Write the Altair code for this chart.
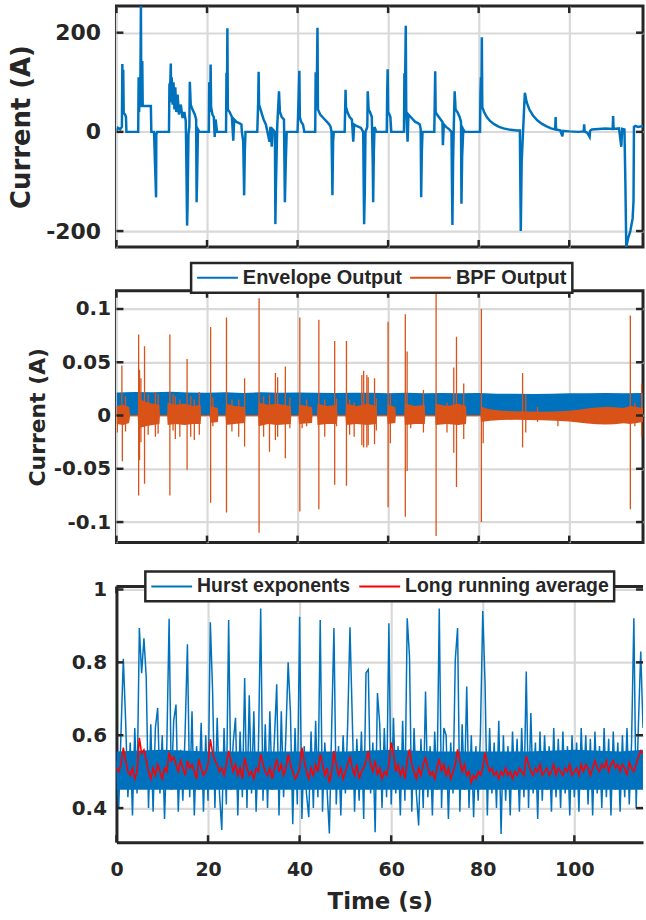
import altair as alt
import pandas as pd

BLUE = "#0072BD"
ORANGE = "#D95319"
RED = "#FF0000"
INK = "#262626"
GRID = "#d9d9d9"

# ---------------- tick values ----------------
x_ticks = [0, 20, 40, 60, 80, 100]
cur_ticks = [-200, 0, 200]
bpf_ticks = [-0.1, -0.05, 0, 0.05, 0.1]
hurst_ticks = [0.4, 0.6, 0.8, 1]

# ---------------- panel 1: current (A) ----------------
current_pts = [
    (0.0, 3), (0.3, 8), (0.8, 5), (1.2, 10), (1.3, 137), (1.4, 40), (1.5, 125), (1.6, 38), (1.9, 35), (2.1, 30), (2.2, 0),
    (4.8, 0), (4.9, 110), (5.0, 40), (5.3, 115), (5.4, 254), (5.5, 50), (5.6, 125), (5.7, 143), (5.8, 52), (7.6, 52), (7.7, 0),
    (8.3, 0), (8.5, -60), (8.75, -132), (8.8, -5), (9.0, 0),
    (11.6, 0), (11.7, 95), (11.9, 100), (12.0, 138), (12.1, 60), (12.2, 110), (12.4, 55), (12.6, 100), (12.8, 45), (13.0, 90),
    (13.2, 40), (13.5, 75), (13.8, 35), (14.2, 55), (14.6, 28), (15.0, 40), (15.3, 22), (15.4, -30), (15.6, -189), (15.7, -150),
    (15.9, -5), (16.1, 10), (16.2, 101), (16.4, 55), (16.8, 45), (17.3, 35), (17.6, 25), (17.7, -142), (17.8, -100), (18.0, 5), (18.3, 0),
    (20.4, 0), (20.5, 100), (20.7, 40), (20.8, 136), (20.9, 50), (21.2, 35), (21.5, 30), (21.7, -10), (21.9, 25), (22.2, 0),
    (24.2, 0), (24.3, 119), (24.4, 60), (24.5, 209), (24.6, 45), (25.0, 40), (25.5, 30), (25.8, -18), (26.0, 25), (26.5, 20),
    (27.0, 18), (27.6, 15), (27.7, 0), (28.0, -20), (28.2, -128), (28.35, -40), (28.5, 0),
    (31.1, 0), (31.3, 60), (31.4, 121), (31.5, 55), (32.0, 40), (32.5, 25), (33.0, 15), (33.8, -20), (34.0, 10), (34.3, -30),
    (34.5, 5), (35.0, 0), (35.1, -186), (35.2, -120), (35.5, 10), (35.9, 82), (36.1, 40), (36.5, 30), (37.0, 25), (37.2, -142),
    (37.4, -60), (37.6, 0),
    (40.0, 0), (40.2, 60), (40.4, 123), (40.5, 30), (40.8, 20), (41.2, 15), (41.5, 0), (43.9, 0), (44.0, 120), (44.2, 60),
    (44.4, 210), (44.5, 45), (45.0, 35), (45.5, 30), (46.0, 25), (46.5, 20), (47.0, 15), (47.3, 10), (47.5, 0), (47.6, -60),
    (47.7, -128), (47.85, -20), (48.0, 0),
    (50.4, 0), (50.5, 40), (50.6, 85), (50.7, 50), (51.0, 40), (51.5, 30), (52.0, 25), (52.3, -20), (52.5, 15), (53.0, 12),
    (53.5, 10), (54.0, 8), (54.5, 0), (54.6, -100), (54.7, -186), (54.85, -120), (55.0, 0), (55.4, 10), (55.5, 82), (55.7, 45),
    (56.0, 40), (56.4, 30), (56.6, -60), (56.7, -142), (56.85, -40), (57.0, 10), (57.4, 0),
    (59.7, 0), (59.8, 80), (59.9, 126), (60.0, 40), (60.3, 35), (60.5, 30), (60.7, 0),
    (63.5, 0), (63.6, 118), (63.7, 60), (63.9, 214), (64.0, 45), (64.3, -20), (64.5, 35), (65.0, 30), (65.5, 25), (66.0, 20),
    (66.5, 18), (67.0, 15), (67.2, 5), (67.3, -132), (67.45, -40), (67.6, 0),
    (70.2, 0), (70.3, 60), (70.4, 122), (70.5, 40), (70.8, 35), (71.2, 30), (71.6, 25), (72.0, 20), (72.1, -27), (72.3, 15),
    (72.8, 10), (73.5, 5), (74.0, 0), (74.1, -100), (74.2, -188), (74.35, -60), (74.5, 10), (74.7, 82), (74.9, 45), (75.3, 40),
    (75.8, 30), (76.1, 20), (76.2, -145), (76.35, -50), (76.6, 5), (76.9, 0),
    (80.3, 0), (80.4, 80), (80.5, 110), (80.6, 60), (80.7, 191), (80.8, 50), (81.2, 40), (81.8, 30), (82.5, 22), (83.5, 15),
    (84.5, 10), (85.5, 7), (86.5, 5), (87.5, 4), (88.5, 3), (89.1, 3), (89.2, -100), (89.3, -200), (89.5, -60), (89.8, 0),
    (90.0, 40), (90.2, 79), (90.6, 60), (91.2, 45), (92.0, 33), (93.0, 23), (94.0, 16), (95.0, 11), (96.0, 7), (96.9, 5),
    (97.0, 30), (97.1, 5), (98.0, 3), (98.5, -9), (98.6, 2), (100.0, 1), (102.0, 0), (103.2, 1), (103.3, 15), (103.4, 1),
    (104.0, -2), (104.5, -10), (104.6, 2), (105.0, 5), (106.5, 6), (108.0, 7), (109.6, 6), (109.7, 32), (109.8, 6), (111.0, 7),
    (111.5, -30), (111.7, 6), (112.2, 5), (112.4, -100), (112.6, -232), (113.0, -215), (113.5, -200), (114.0, -175),
    (114.2, -140), (114.3, 10), (114.6, 12), (115.2, 10), (116.3, 12),
]

# ---------------- panel 2: envelope + BPF ----------------
envelope_top = [
    (0.0, 0.0215), (4, 0.022), (8, 0.0218), (12, 0.0222), (16, 0.0216), (20, 0.0214), (24, 0.0218), (28, 0.0212),
    (32, 0.0218), (36, 0.0214), (40, 0.0215), (44, 0.0214), (48, 0.0212), (52, 0.0213), (56, 0.0214), (60, 0.021),
    (64, 0.0213), (68, 0.021), (72, 0.0212), (76, 0.021), (80, 0.0212), (84, 0.0205), (88, 0.0204), (92, 0.0203),
    (96, 0.0205), (100, 0.0208), (104, 0.021), (108, 0.0212), (112, 0.021), (116.3, 0.0212),
]

bpf_band = [
    (0.0, 0.009, -0.008), (1.5, 0.010, -0.009), (2.8, 0.008, -0.007), (3.0, 0.0006, -0.0006),
    (4.7, 0.0006, -0.0006), (4.8, 0.016, -0.012), (6.5, 0.013, -0.010), (8.0, 0.011, -0.009), (9.5, 0.010, -0.008), (9.6, 0.0006, -0.0006),
    (11.2, 0.0006, -0.0006), (11.3, 0.012, -0.009), (13.0, 0.010, -0.008), (15.0, 0.011, -0.009), (17.0, 0.009, -0.008), (18.6, 0.010, -0.008), (18.7, 0.0006, -0.0006),
    (20.6, 0.0006, -0.0006), (20.7, 0.009, -0.007), (22.4, 0.007, -0.006), (22.5, 0.0006, -0.0006),
    (24.1, 0.0006, -0.0006), (24.2, 0.011, -0.009), (26.0, 0.009, -0.008), (28.4, 0.008, -0.007), (28.5, 0.0006, -0.0006),
    (31.3, 0.0006, -0.0006), (31.4, 0.012, -0.010), (33.5, 0.010, -0.008), (35.5, 0.011, -0.009), (38.5, 0.009, -0.008), (38.6, 0.0006, -0.0006),
    (40.2, 0.0006, -0.0006), (40.3, 0.010, -0.008), (43.2, 0.008, -0.007), (43.3, 0.0006, -0.0006),
    (44.3, 0.0006, -0.0006), (44.4, 0.011, -0.009), (46.5, 0.009, -0.008), (48.7, 0.010, -0.008), (48.8, 0.0006, -0.0006),
    (50.6, 0.0006, -0.0006), (50.7, 0.011, -0.009), (53.0, 0.009, -0.008), (55.5, 0.011, -0.009), (57.4, 0.009, -0.008), (57.5, 0.0006, -0.0006),
    (59.8, 0.0006, -0.0006), (59.9, 0.010, -0.008), (61.6, 0.008, -0.007), (61.7, 0.0006, -0.0006),
    (63.6, 0.0006, -0.0006), (63.7, 0.011, -0.009), (66.0, 0.009, -0.008), (68.1, 0.010, -0.008), (68.2, 0.0006, -0.0006),
    (70.4, 0.0006, -0.0006), (70.5, 0.011, -0.009), (73.0, 0.009, -0.008), (75.5, 0.011, -0.009), (77.2, 0.009, -0.008), (77.3, 0.0006, -0.0006),
    (80.4, 0.0006, -0.0006), (80.5, 0.008, -0.006), (82.5, 0.006, -0.005), (85.0, 0.0045, -0.0042), (88.0, 0.004, -0.004),
    (91.0, 0.0038, -0.0042), (94.0, 0.0036, -0.0045), (97.0, 0.0038, -0.005), (100.0, 0.0045, -0.0055), (102.0, 0.0055, -0.0065),
    (104.0, 0.0065, -0.0075), (106.0, 0.0075, -0.0082), (108.0, 0.008, -0.0085), (110.0, 0.0078, -0.0082), (112.0, 0.007, -0.0072),
    (113.5, 0.009, -0.008), (115.0, 0.008, -0.007), (116.3, 0.007, -0.006),
]

bpf_spikes = [
    (0.2, 0.002, -0.016), (1.2, 0.047, -0.005), (1.3, 0.004, -0.043), (2.0, 0.018, -0.015),
    (4.9, 0.076, -0.075), (5.1, 0.043, -0.042), (5.4, 0.035, -0.025), (6.2, 0.065, -0.064), (7.0, 0.02, -0.018),
    (8.6, 0.022, -0.02), (9.2, 0.02, -0.017),
    (11.8, 0.076, -0.075), (12.5, 0.02, -0.014), (13.0, 0.018, -0.022), (14.0, 0.015, -0.02), (15.6, 0.053, -0.051),
    (16.4, 0.018, -0.02), (17.2, 0.015, -0.023), (18.3, 0.022, -0.018),
    (20.8, 0.083, -0.082), (21.3, 0.017, -0.01),
    (24.3, 0.092, -0.091), (25.5, 0.015, -0.015), (27.0, 0.015, -0.02), (28.3, 0.035, -0.029),
    (31.5, 0.11, -0.11), (32.5, 0.018, -0.02), (33.8, 0.02, -0.034), (35.1, 0.04, -0.023), (35.6, 0.036, -0.02),
    (37.3, 0.046, -0.04), (38.3, 0.017, -0.012),
    (40.5, 0.092, -0.09), (41.0, 0.01, -0.012), (42.0, 0.015, -0.01),
    (44.7, 0.09, -0.088), (46.0, 0.015, -0.02), (48.2, 0.07, -0.065), (48.6, 0.016, -0.01),
    (50.8, 0.07, -0.066), (51.5, 0.015, -0.018), (52.5, 0.012, -0.02), (54.2, 0.038, -0.028), (54.6, 0.042, -0.03),
    (55.3, 0.038, -0.03), (55.6, 0.036, -0.028), (57.0, 0.035, -0.027), (57.4, 0.016, -0.014),
    (60.0, 0.088, -0.086), (60.5, 0.02, -0.026),
    (63.8, 0.095, -0.095), (64.2, 0.06, -0.052), (65.0, 0.01, -0.012), (67.8, 0.024, -0.016),
    (70.6, 0.115, -0.113), (71.2, 0.01, -0.008), (73.0, 0.012, -0.016), (74.5, 0.045, -0.035), (75.1, 0.074, -0.067),
    (76.7, 0.03, -0.022),
    (80.6, 0.1, -0.1), (81.0, 0.008, -0.026), (89.7, 0.04, -0.03), (90.4, 0.02, -0.016), (93.0, 0.008, -0.006),
    (97.5, 0.004, -0.01), (113.5, 0.094, -0.088), (114.5, 0.012, -0.01), (116.0, 0.03, -0.02),
]

# ---------------- panel 3: Hurst exponents (one value every 0.5 s) ----------------
hurst_step = 0.5
hurst_vals = [
    0.53, 0.40, 0.61, 0.81, 0.64, 0.43, 0.58, 0.38, 0.62, 0.44,
    0.894, 0.77, 0.866, 0.76, 0.40, 0.63, 0.39, 0.62, 0.675, 0.44,
    0.60, 0.37, 0.57, 0.92, 0.45, 0.64, 0.684, 0.39, 0.56, 0.42,
    0.61, 0.85, 0.43, 0.666, 0.38, 0.57, 0.45, 0.634, 0.39, 0.60,
    0.42, 0.91, 0.72, 0.40, 0.648, 0.44, 0.34, 0.62, 0.41, 0.916,
    0.45, 0.58, 0.648, 0.38, 0.61, 0.43, 0.757, 0.40, 0.71, 0.44,
    0.666, 0.39, 0.56, 0.948, 0.42, 0.63, 0.40, 0.666, 0.45, 0.59,
    0.74, 0.38, 0.666, 0.43, 0.60, 0.80, 0.661, 0.356, 0.62, 0.41,
    0.925, 0.37, 0.57, 0.44, 0.375, 0.61, 0.40, 0.64, 0.43, 0.916,
    0.39, 0.58, 0.45, 0.33, 0.62, 0.894, 0.41, 0.57, 0.38, 0.60,
    0.44, 0.63, 0.896, 0.648, 0.39, 0.59, 0.42, 0.61, 0.37, 0.771,
    0.78, 0.44, 0.58, 0.334, 0.716, 0.63, 0.40, 0.62, 0.43, 0.907,
    0.41, 0.648, 0.44, 0.57, 0.38, 0.64, 0.42, 0.921, 0.816, 0.39,
    0.62, 0.44, 0.352, 0.59, 0.40, 0.72, 0.43, 0.57, 0.38, 0.61,
    0.45, 0.948, 0.40, 0.62, 0.60, 0.37, 0.58, 0.44, 0.807, 0.894,
    0.39, 0.63, 0.45, 0.734, 0.40, 0.60, 0.375, 0.57, 0.42, 0.61,
    0.941, 0.743, 0.38, 0.62, 0.44, 0.58, 0.40, 0.64, 0.329, 0.60,
    0.42, 0.57, 0.38, 0.61, 0.45, 0.59, 0.39, 0.62, 0.43, 0.775,
    0.40, 0.661, 0.44, 0.58, 0.37, 0.61, 0.42, 0.60, 0.45, 0.57,
    0.39, 0.62, 0.43, 0.59, 0.40, 0.61, 0.44, 0.57, 0.38, 0.60,
    0.43, 0.58, 0.39, 0.62, 0.45, 0.60, 0.41, 0.59, 0.38, 0.61,
    0.44, 0.57, 0.40, 0.62, 0.43, 0.59, 0.38, 0.61, 0.45, 0.58,
    0.39, 0.60, 0.43, 0.62, 0.41, 0.58, 0.921, 0.40, 0.63, 0.83,
    0.62,
]
running_avg = [
    0.51, 0.50, 0.52, 0.566, 0.53, 0.50, 0.49, 0.51, 0.48, 0.50,
    0.593, 0.55, 0.56, 0.53, 0.50, 0.48, 0.51, 0.49, 0.52, 0.50,
    0.48, 0.51, 0.50, 0.552, 0.53, 0.54, 0.52, 0.50, 0.53, 0.51,
    0.49, 0.53, 0.51, 0.52, 0.50, 0.48, 0.534, 0.51, 0.49, 0.50,
    0.52, 0.589, 0.55, 0.53, 0.52, 0.50, 0.51, 0.49, 0.52, 0.557,
    0.53, 0.50, 0.52, 0.49, 0.51, 0.48, 0.538, 0.51, 0.49, 0.50,
    0.48, 0.51, 0.50, 0.548, 0.52, 0.50, 0.49, 0.51, 0.48, 0.51,
    0.534, 0.50, 0.52, 0.49, 0.51, 0.548, 0.52, 0.50, 0.48, 0.49,
    0.51, 0.566, 0.53, 0.50, 0.48, 0.51, 0.49, 0.52, 0.50, 0.548,
    0.52, 0.49, 0.51, 0.47, 0.50, 0.557, 0.52, 0.49, 0.51, 0.48,
    0.50, 0.52, 0.54, 0.51, 0.49, 0.52, 0.48, 0.50, 0.51, 0.53,
    0.557, 0.52, 0.50, 0.53, 0.49, 0.51, 0.48, 0.50, 0.49, 0.52,
    0.58, 0.55, 0.50, 0.52, 0.49, 0.51, 0.48, 0.53, 0.561, 0.52,
    0.50, 0.48, 0.51, 0.49, 0.52, 0.538, 0.51, 0.49, 0.50, 0.48,
    0.51, 0.535, 0.50, 0.52, 0.49, 0.51, 0.48, 0.50, 0.52, 0.561,
    0.53, 0.50, 0.52, 0.49, 0.50, 0.47, 0.49, 0.48, 0.50, 0.49,
    0.51, 0.552, 0.52, 0.50, 0.51, 0.49, 0.50, 0.48, 0.50, 0.49,
    0.51, 0.49, 0.50, 0.48, 0.50, 0.49, 0.51, 0.50, 0.49, 0.543,
    0.52, 0.50, 0.49, 0.51, 0.50, 0.52, 0.49, 0.50, 0.51, 0.49,
    0.50, 0.52, 0.49, 0.51, 0.50, 0.49, 0.51, 0.50, 0.52, 0.49,
    0.50, 0.51, 0.49, 0.52, 0.50, 0.52, 0.51, 0.49, 0.51, 0.53,
    0.51, 0.50, 0.52, 0.51, 0.53, 0.50, 0.52, 0.53, 0.51, 0.52,
    0.50, 0.52, 0.51, 0.49, 0.525, 0.51, 0.50, 0.52, 0.54, 0.557,
    0.55,
]
hurst_core = [
    (0, 0.45, 0.555), (10, 0.45, 0.56), (20, 0.45, 0.555), (30, 0.45, 0.555), (40, 0.45, 0.555),
    (50, 0.45, 0.555), (60, 0.45, 0.56), (70, 0.45, 0.555), (80, 0.45, 0.555), (90, 0.45, 0.555),
    (100, 0.45, 0.56), (110, 0.45, 0.555), (115, 0.45, 0.56),
]

# ---------------- layout ----------------
W = 529
H1, H2, H3 = 242, 253, 257
X12 = [0, 116.3]
X3 = [0, 115]
Y1 = [-232.1, 253.6]
Y2 = [-0.1193, 0.1171]
Y3 = [0.3063, 1.0085]
TL = 7  # inward tick length

df_cur = pd.DataFrame(current_pts, columns=["t", "v"])
df_env = pd.DataFrame(envelope_top, columns=["t", "hi"]).assign(lo=-0.0005)
df_band = pd.DataFrame(bpf_band, columns=["t", "hi", "lo"])
df_spk = pd.DataFrame(bpf_spikes, columns=["t", "hi", "lo"]).assign(s2="BPF Output")
df_hurst = pd.DataFrame({"t": [i * hurst_step for i in range(len(hurst_vals))], "v": hurst_vals, "s3": "Hurst exponents"})
df_avg = pd.DataFrame({"t": [i * hurst_step for i in range(len(running_avg))], "v": running_avg, "s3": "Long running average"})
df_core = pd.DataFrame(hurst_core, columns=["t", "lo", "hi"])
df_frame = pd.DataFrame({"k": [1]})

LABEL_FONT = "DejaVu Sans"


def sc(domain):
    return alt.Scale(domain=domain, nice=False, zero=False)


def ticks_layers(xdom, ydom, yvals, w, h):
    xt = pd.DataFrame({"t": x_ticks})
    yt = pd.DataFrame({"v": yvals})
    st = dict(color=INK, strokeWidth=2.5, clip=False)
    return [
        alt.Chart(xt).mark_rule(**st).encode(x=alt.X("t:Q", scale=sc(xdom)), y=alt.value(0), y2=alt.value(TL)),
        alt.Chart(xt).mark_rule(**st).encode(x=alt.X("t:Q", scale=sc(xdom)), y=alt.value(h), y2=alt.value(h - TL)),
        alt.Chart(yt).mark_rule(**st).encode(y=alt.Y("v:Q", scale=sc(ydom)), x=alt.value(0), x2=alt.value(TL)),
        alt.Chart(yt).mark_rule(**st).encode(y=alt.Y("v:Q", scale=sc(ydom)), x=alt.value(w - TL), x2=alt.value(w)),
    ]


def grid_x_axis():
    return alt.Axis(values=x_ticks, labels=False, ticks=False, domain=False, grid=True, title="")


LEG = dict(orient="none", direction="horizontal", title=None, symbolType="stroke", symbolSize=1681,
           symbolStrokeWidth=2, labelOffset=4, padding=5, clipHeight=20, labelLimit=500)

# ---- panel 1 ----
p1_line = alt.Chart(df_cur).mark_line(color=BLUE, strokeWidth=2.5, clip=True).encode(
    x=alt.X("t:Q", scale=sc(X12), axis=grid_x_axis()),
    y=alt.Y("v:Q", scale=sc(Y1), axis=alt.Axis(
        values=cur_ticks, labelExpr="datum.value + ''", ticks=False, tickSize=0, domain=False, grid=True,
        labelFontSize=22, labelPadding=16, title="Current (A)", titleFontSize=26,
        titleX=-82, titleY=H1 / 2, titleAngle=270, titleAlign="center", titleBaseline="bottom")),
)
p1 = alt.layer(p1_line, *ticks_layers(X12, Y1, cur_ticks, W, H1)).properties(
    width=W, height=H1, view=alt.ViewBackground(stroke=INK, strokeWidth=3))

# ---- panel 2 ----
p2_env = alt.Chart(df_env).mark_area(color=BLUE, clip=True).encode(
    x=alt.X("t:Q", scale=sc(X12), axis=grid_x_axis()),
    y=alt.Y("hi:Q", scale=sc(Y2), axis=alt.Axis(
        values=bpf_ticks, labelExpr="datum.value + ''", ticks=False, tickSize=0, domain=False, grid=True,
        labelFontSize=20, labelPadding=6, title="Current (A)", titleFontSize=22,
        titleX=-67, titleY=H2 / 2, titleAngle=270, titleAlign="center", titleBaseline="bottom")),
    y2="lo:Q",
)
p2_band = alt.Chart(df_band).mark_area(color=ORANGE, clip=True).encode(
    x=alt.X("t:Q", scale=sc(X12)), y=alt.Y("hi:Q", scale=sc(Y2)), y2="lo:Q")
p2_spk = alt.Chart(df_spk).mark_rule(strokeWidth=1.3, clip=True).encode(
    x=alt.X("t:Q", scale=sc(X12)),
    y=alt.Y("hi:Q", scale=sc(Y2)), y2="lo:Q",
    color=alt.Color("s2:N", scale=alt.Scale(domain=["Envelope Output", "BPF Output"], range=[BLUE, ORANGE]),
                    legend=alt.Legend(legendX=75, legendY=-28, labelFontSize=20, columnPadding=7, **LEG)),
)
p2 = alt.layer(p2_env, p2_band, p2_spk, *ticks_layers(X12, Y2, bpf_ticks, W, H2)).properties(
    width=W, height=H2, view=alt.ViewBackground(stroke=INK, strokeWidth=3))

# ---- panel 3 ----
color3 = alt.Color("s3:N", scale=alt.Scale(domain=["Hurst exponents", "Long running average"], range=[BLUE, RED]),
                   legend=alt.Legend(legendX=29, legendY=-15, labelFontSize=19.5, columnPadding=8, **LEG))
p3_core = alt.Chart(df_core).mark_area(color=BLUE, clip=True).encode(
    x=alt.X("t:Q", scale=sc(X3), axis=alt.Axis(
        values=x_ticks, ticks=False, tickSize=0, domain=True, domainColor=INK, domainWidth=3, grid=True,
        labelFontSize=19, labelPadding=18, labelFlush=False, title="Time (s)", titleFontSize=23, titleY=67,
        titleBaseline="alphabetic")),
    y=alt.Y("lo:Q", scale=sc(Y3), axis=alt.Axis(
        values=hurst_ticks, labelExpr="datum.value + ''", ticks=False, tickSize=0, domain=True,
        domainColor=INK, domainWidth=3, grid=True, labelFontSize=20, labelPadding=10, title="")),
    y2="hi:Q",
)
p3_hurst = alt.Chart(df_hurst).mark_line(strokeWidth=1.5, clip=True).encode(
    x=alt.X("t:Q", scale=sc(X3)), y=alt.Y("v:Q", scale=sc(Y3)), color=color3)
p3_avg = alt.Chart(df_avg).mark_line(strokeWidth=1.6, clip=True).encode(
    x=alt.X("t:Q", scale=sc(X3)), y=alt.Y("v:Q", scale=sc(Y3)), color=color3)
p3_top = alt.Chart(df_frame).mark_rule(color=INK, strokeWidth=3).encode(
    x=alt.value(0), x2=alt.value(W), y=alt.value(0))
p3 = alt.layer(p3_core, p3_hurst, p3_avg, p3_top, *ticks_layers(X3, Y3, hurst_ticks, W, H3)).properties(
    width=W, height=H3, view=alt.ViewBackground(stroke="transparent"))

chart = alt.vconcat(p1, p2, p3, spacing=44, bounds="flush").resolve_scale(color="independent").properties(
    padding={"left": 7, "top": 1, "right": 0, "bottom": 0}
).configure_axis(
    labelFont=LABEL_FONT, labelFontWeight="bold", labelColor=INK,
    titleFont=LABEL_FONT, titleFontWeight="bold", titleColor=INK,
    gridColor=GRID, gridWidth=2.2,
).configure_legend(
    labelFont="Liberation Sans", labelFontWeight="bold", labelColor=INK,
    strokeColor=INK, strokeWidth=2.5, fillColor="white", cornerRadius=0,
)

chart.save("out.html", embed_options={"renderer": "svg", "actions": False})
